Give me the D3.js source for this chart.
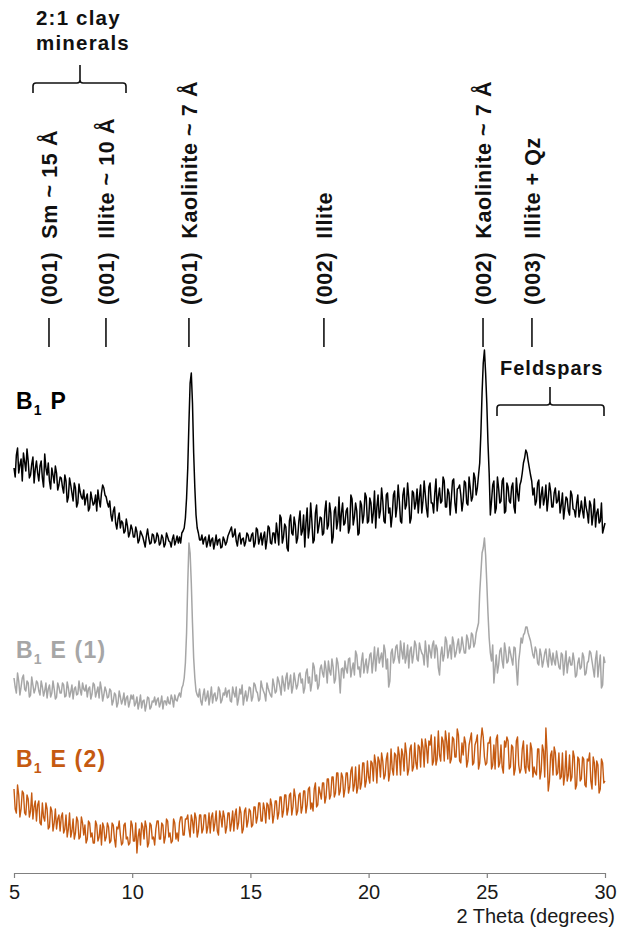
<!DOCTYPE html>
<html>
<head>
<meta charset="utf-8">
<script src="https://cdn.jsdelivr.net/npm/d3@7"></script>
<style>
  html, body { margin: 0; padding: 0; background: #fff; }
  svg { display: block; font-family: "Liberation Sans", Arial, sans-serif; }
</style>
</head>
<body>
<svg id="chart" width="623" height="933"></svg>
<script>
// ---- Data: 2θ from 5.0 to 30.0; "full" arrays at 5.0,5.1,...,30.0 and "half" arrays at 5.05,5.15,...,29.95 ----
const thetaStart = 5, thetaStep = 0.1;

const seriesNames = ["B1 P", "B1 E (1)", "B1 E (2)"];
const seriesColors = ["#000000", "#a6a6a6", "#c55a11"];

const b1P = [
  405,418,400,414,420,402,412,398,416,404,
  400,407,395,419,398,392,405,390,400,388,
  395,380,392,376,388,372,385,370,381,374,
  368,379,365,374,370,362,373,380,385,376,
  366,358,362,350,354,345,350,342,347,340,
  344,336,341,333,339,331,337,335,330,338,
  332,337,330,335,329,336,331,334,328,337,
  336,340,345,375,450,500,420,358,340,333,
  329,336,331,327,335,330,328,334,326,333,
  331,340,346,338,332,337,329,335,331,338,
  332,340,330,343,334,328,341,333,345,329,
  340,350,328,355,336,346,322,358,338,348,
  335,362,342,326,365,345,352,333,368,347,
  355,340,372,348,360,336,366,352,342,370,
  350,365,345,374,356,362,340,368,358,376,
  352,370,360,345,378,362,372,350,380,365,
  358,382,366,372,350,385,368,375,355,380,
  370,360,388,372,378,356,390,370,380,362,
  385,372,392,366,380,375,394,360,385,378,
  372,390,368,385,376,395,385,410,480,523,
  470,400,372,392,365,385,372,395,362,386,
  370,390,360,380,388,400,415,420,405,392,
  385,372,393,378,368,388,374,382,366,385,
  372,360,380,365,374,358,378,363,370,356,
  372,355,366,350,368,358,346,364,352,340,350
];
const b1PHalf = [
  396,425,408,392,411,424,395,409,390,412,
  392,412,386,405,410,384,398,407,383,396,
  386,398,371,395,380,390,366,389,376,383,
  375,362,381,368,378,383,366,388,378,370,
  372,352,366,344,360,352,340,354,336,348,
  336,346,330,342,336,326,344,329,339,330,
  340,328,338,326,340,332,326,338,332,330,
  330,342,355,405,490,470,385,345,333,338,
  334,326,338,333,324,338,333,325,336,328,
  337,343,336,344,327,340,334,327,340,332,
  338,326,345,329,340,336,324,347,330,340,
  330,340,358,330,349,325,352,340,356,330,
  352,338,358,350,335,370,330,360,340,356,
  338,362,344,370,330,362,344,376,360,348,
  362,340,378,348,370,338,372,350,380,350,
  375,350,382,366,355,385,352,378,360,346,
  378,356,388,352,378,364,390,350,382,364,
  384,376,360,392,364,386,370,360,394,376,
  370,396,366,384,358,392,370,384,388,362,
  392,370,396,372,400,378,398,440,510,500,
  430,358,388,360,396,370,392,360,390,372,
  386,366,395,372,392,410,423,412,398,378,
  368,390,365,386,375,362,390,366,380,370,
  382,368,354,376,362,382,364,356,378,362,
  362,376,360,372,348,374,360,350,370,345
];

const b1E1 = [
  195,180,192,186,198,182,190,178,188,184,
  190,178,186,182,175,188,180,184,176,186,
  180,188,177,185,181,174,186,179,183,190,
  182,176,186,179,188,181,175,184,178,182,
  176,182,172,178,170,176,173,168,177,171,
  174,167,176,170,165,173,168,175,166,171,
  168,175,170,164,172,176,169,174,178,172,
  180,185,195,240,330,290,215,182,176,172,
  178,172,182,176,170,180,175,183,173,178,
  176,183,171,180,186,174,179,168,182,177,
  185,176,188,180,174,186,179,190,181,176,
  188,182,192,178,190,195,184,198,186,192,
  188,200,194,185,204,196,190,206,198,188,
  208,196,204,212,198,206,194,210,180,205,
  212,200,215,204,198,218,206,212,200,214,
  208,220,212,202,225,215,206,222,214,192,
  224,214,228,210,222,230,216,205,226,218,
  228,212,224,218,232,206,222,228,215,224,
  198,226,218,232,222,214,230,220,234,224,
  228,220,234,226,238,230,245,280,320,335,
  290,235,212,190,218,208,225,205,222,212,
  220,208,225,188,222,230,240,246,236,225,
  215,222,208,218,212,224,206,216,220,208,
  214,204,218,210,200,216,208,212,198,215,
  206,216,200,212,220,204,214,196,218,188,210
];
const b1E1Half = [
  186,200,178,195,184,192,176,196,180,192,
  182,192,177,190,184,176,192,174,190,180,
  190,176,191,176,188,184,178,192,178,184,
  188,184,174,190,176,186,191,172,186,175,
  184,168,180,166,182,169,180,175,166,178,
  178,170,164,178,172,162,176,164,172,176,
  173,166,177,172,168,170,178,166,173,177,
  176,188,210,290,320,250,195,178,184,168,
  184,176,168,186,178,172,186,170,180,185,
  182,172,186,176,168,184,188,176,172,186,
  172,190,182,172,192,182,172,185,178,194,
  180,196,186,197,182,200,190,180,200,184,
  198,190,180,200,190,182,210,192,184,204,
  200,212,190,202,214,190,215,198,204,195,
  204,214,196,210,222,204,196,220,208,200,
  218,200,226,216,210,220,228,204,186,220,
  210,226,216,232,214,210,228,222,210,232,
  214,230,220,208,220,228,215,232,228,205,
  218,212,236,215,228,236,216,228,220,236,
  220,238,224,240,226,240,250,300,325,318,
  260,220,228,205,200,222,212,230,210,226,
  214,226,205,212,235,238,246,240,232,218,
  226,210,224,206,220,212,224,208,212,222,
  206,220,198,222,210,208,220,196,210,204,
  220,198,210,222,212,196,222,208,185,216
];

const b1E2 = [
  84,60,78,64,80,58,74,62,54,72,
  68,50,70,52,64,46,62,50,44,58,
  56,40,58,44,36,54,40,52,36,50,
  48,34,50,40,30,48,36,28,46,36,
  46,32,48,26,44,38,30,50,36,30,
  48,32,20,44,50,34,46,30,48,36,
  44,52,34,48,36,52,40,32,50,40,
  50,56,38,54,44,58,40,55,42,58,
  44,58,46,40,60,50,42,62,46,56,
  46,60,50,42,64,50,60,44,65,52,
  62,48,66,56,70,52,64,70,54,68,
  58,72,60,76,62,78,64,80,66,76,
  62,80,66,82,68,86,70,84,66,86,
  74,90,76,94,78,96,80,100,82,96,
  84,100,86,106,88,80,108,90,110,92,
  96,112,92,110,116,96,112,98,120,100,
  104,120,98,118,124,102,120,104,128,106,
  110,128,106,126,134,110,128,108,136,114,
  118,136,112,132,140,114,134,116,138,110,
  118,130,112,134,108,128,138,110,145,116,
  110,130,104,128,134,106,128,100,126,132,
  106,126,104,136,100,124,106,128,102,124,
  106,98,124,102,122,145,82,118,98,120,
  100,94,120,98,92,118,96,116,88,114,
  94,114,86,112,92,116,88,108,84,110,92
];
const b1E2Half = [
  64,88,56,82,60,78,56,80,66,52,
  72,48,56,70,44,66,42,64,54,42,
  60,44,36,60,42,34,56,34,56,38,
  30,52,36,30,52,32,48,50,32,50,
  30,50,34,46,52,28,48,34,28,52,
  32,50,36,28,46,52,26,50,34,28,
  52,34,50,30,54,36,30,54,34,32,
  56,38,54,58,36,52,60,36,58,40,
  58,40,60,56,42,62,38,56,62,40,
  60,42,62,58,44,66,40,62,46,64,
  46,66,50,70,52,70,50,68,74,50,
  72,54,76,56,78,58,78,58,84,58,
  78,60,82,60,84,64,62,90,68,80,
  90,70,94,74,96,76,100,78,100,76,
  100,80,102,82,106,86,84,110,86,112,
  90,110,118,90,112,120,94,114,92,124,
  98,118,126,98,118,130,98,124,102,130,
  104,126,134,106,126,132,138,112,108,142,
  112,132,142,114,110,136,116,144,112,130,
  136,106,128,140,110,132,104,132,136,108,
  130,136,108,104,138,110,106,132,136,104,
  128,98,132,108,104,132,100,106,130,96,
  100,124,94,128,96,120,92,122,126,98,
  120,96,88,122,98,92,122,84,116,92,
  116,88,114,120,84,110,112,80,114,90
];

const xTicks = [5, 10, 15, 20, 25, 30];

const markerTheta = [6.48, 8.89, 12.40, 18.11, 24.84, 26.91];
const markerLabels = [
  "(001)  Sm ~ 15 Å",
  "(001)  Illite ~ 10 Å",
  "(001)  Kaolinite ~ 7 Å",
  "(002)  Illite",
  "(002)  Kaolinite ~ 7 Å",
  "(003)  Illite + Qz"
];

// ---- Drawing ----
const svg = d3.select("#chart");
const x = d3.scaleLinear().domain([5, 30]).range([14, 605]);
const y = d3.scaleLinear().domain([0, 860]).range([873, 13]);

function merge(full, half) {
  const pts = [];
  full.forEach((v, i) => {
    pts.push([thetaStart + i * thetaStep, v]);
    if (i < half.length) pts.push([thetaStart + (i + 0.5) * thetaStep, half[i]]);
  });
  return pts;
}

const line = d3.line().x(d => x(d[0])).y(d => y(d[1]));
const allSeries = [merge(b1P, b1PHalf), merge(b1E1, b1E1Half), merge(b1E2, b1E2Half)];
const strokeW = [1.5, 1.5, 1.4];

[2, 1, 0].forEach(k => {
  svg.append("path")
    .datum(allSeries[k])
    .attr("fill", "none")
    .attr("stroke", seriesColors[k])
    .attr("stroke-width", strokeW[k])
    .attr("stroke-linejoin", "round")
    .attr("d", line);
});

// x axis
const axis = d3.axisBottom(x).tickValues(xTicks).tickSize(5).tickSizeOuter(0).tickPadding(7);
const gx = svg.append("g").attr("transform", "translate(0,873)").call(axis);
gx.select(".domain").attr("stroke", "#808080").attr("stroke-width", 1.2);
gx.selectAll(".tick line").attr("stroke", "#808080").attr("stroke-width", 1.2);
gx.selectAll(".tick text").attr("fill", "#1a1a1a").attr("font-size", 20)
  .attr("font-family", "'Liberation Sans', Arial, sans-serif");

svg.append("text").attr("x", 615).attr("y", 923).attr("text-anchor", "end")
  .attr("font-size", 20).attr("fill", "#1a1a1a").text("2 Theta (degrees)");

// marker lines & rotated labels
markerTheta.forEach((t, i) => {
  svg.append("line")
    .attr("x1", x(t)).attr("x2", x(t)).attr("y1", 318).attr("y2", 347)
    .attr("stroke", "#111").attr("stroke-width", 1.6);
  svg.append("text")
    .attr("transform", `translate(${x(t)},305) rotate(-90)`)
    .attr("dy", "0.36em")
    .attr("font-size", 21.5).attr("font-weight", "bold").attr("fill", "#111")
    .attr("letter-spacing", 0.6)
    .style("white-space", "pre")
    .text(markerLabels[i]);
});

// brackets
function bracket(x0, x1, yH, yTip, xs, yStem) {
  const r = 3;
  const p = `M${x0},${yTip} L${x0},${yH + r} Q${x0},${yH} ${x0 + r},${yH} L${xs - r},${yH} Q${xs},${yH} ${xs},${yH - r} L${xs},${yStem} M${xs},${yH - r} Q${xs},${yH} ${xs + r},${yH} L${x1 - r},${yH} Q${x1},${yH} ${x1},${yH + r} L${x1},${yTip}`;
  svg.append("path").attr("d", p).attr("fill", "none").attr("stroke", "#111").attr("stroke-width", 1.6);
}
bracket(33, 126, 83, 93, 80, 65);
bracket(497, 604, 405, 416, 550, 387);

svg.append("text").attr("x", 36).attr("y", 25).attr("font-size", 20.5).attr("font-weight", "bold")
  .attr("letter-spacing", 1.2).attr("fill", "#111").text("2:1 clay");
svg.append("text").attr("x", 36).attr("y", 50).attr("font-size", 20.5).attr("font-weight", "bold")
  .attr("letter-spacing", 1.2).attr("fill", "#111").text("minerals");
svg.append("text").attr("x", 500).attr("y", 375).attr("font-size", 20).attr("font-weight", "bold")
  .attr("letter-spacing", 1).attr("fill", "#111").text("Feldspars");

// series labels with subscript
function seriesLabel(xp, yp, rest, color) {
  const t = svg.append("text").attr("x", xp).attr("y", yp).attr("font-size", 23)
    .attr("font-weight", "bold").attr("letter-spacing", 1.2).attr("fill", color).style("white-space", "pre");
  t.append("tspan").text("B");
  t.append("tspan").attr("font-size", 14).attr("dy", 6).text("1");
  t.append("tspan").attr("dy", -6).text(rest);
}
seriesLabel(16, 409, " P", seriesColors[0]);
seriesLabel(16, 658, " E (1)", seriesColors[1]);
seriesLabel(16, 767, " E (2)", seriesColors[2]);
</script>
</body>
</html>
